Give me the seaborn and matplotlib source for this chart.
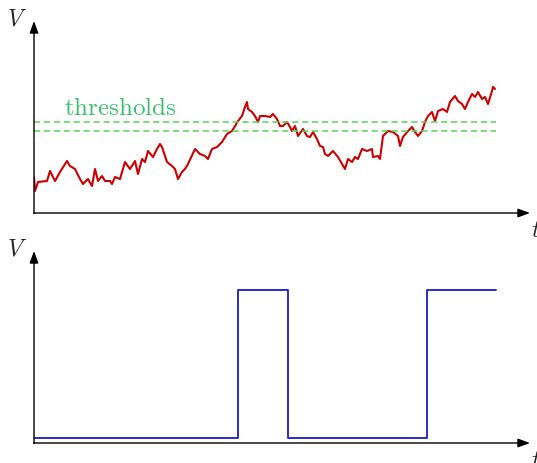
import matplotlib
matplotlib.use("Agg")
import matplotlib.pyplot as plt
import seaborn as sns
import pandas as pd

# signal (t and V in pixel-like units)
red_t = [0, 1, 4, 13, 16, 21, 26, 33, 36, 41, 46, 49, 54, 58, 61, 64, 68, 71, 76, 78,
         81, 86, 91, 96, 101, 104, 108, 111, 114, 119, 123, 126, 128, 133, 138, 141, 144,
         148, 151, 154, 161, 166, 171, 174, 178, 183, 188, 193, 198, 201, 204, 208, 211,
         213, 214, 218, 221, 224, 226, 231, 236, 239, 243, 246, 249, 253, 256, 258, 261,
         264, 269, 273, 276, 279, 283, 286, 289, 291, 294, 299, 304, 308, 311, 314, 318,
         321, 324, 328, 333, 338, 339, 344, 346, 349, 354, 359, 364, 366, 369, 374, 378,
         381, 384, 388, 391, 394, 398, 401, 404, 409, 413, 416, 421, 424, 428, 431, 434,
         438, 441, 444, 448, 451, 454, 458, 459, 461]
red_v = [36, 22, 31, 32, 42, 32, 41, 52, 47, 44, 34, 29, 34, 27, 44, 32, 37, 32, 32, 29,
         36, 34, 51, 44, 52, 39, 54, 51, 62, 56, 64, 69, 66, 51, 47, 44, 34,
         41, 44, 49, 64, 59, 57, 54, 64, 66, 71, 79, 82, 87, 92, 97, 106,
         111, 104, 101, 97, 91, 97, 97, 96, 99, 94, 87, 87, 91, 86, 82, 87,
         77, 84, 77, 76, 81, 74, 67, 66, 59, 57, 62, 56, 49, 44, 54, 51,
         56, 54, 64, 62, 64, 56, 57, 54, 77, 82, 81, 77, 67, 76, 82, 86,
         81, 77, 82, 91, 97, 101, 92, 102, 104, 101, 111, 117, 112, 109, 104, 111,
         119, 116, 121, 114, 116, 109, 122, 126, 124]

thresholds = [91, 82]

# comparator output
blue_t = [0, 204, 254, 393, 462]
blue_v = [5, 153, 5, 153, 153]

T_MAX = 496
V_MAX = 192

sns.set_theme(style="white")
plt.rcParams["mathtext.fontset"] = "cm"

fig = plt.figure(figsize=(5.37, 4.64), dpi=100)
W, H = 537, 464
ax1 = fig.add_axes([34 / W, (H - 214) / H, 503 / W, 209 / H])
ax2 = fig.add_axes([34 / W, (H - 444) / H, 503 / W, 209 / H])


def draw_axes(ax):
    ax.set_xlim(0, 503)
    ax.set_ylim(0, 209)
    ax.axis("off")
    arrow = dict(arrowstyle="-|>,head_length=0.6,head_width=0.22", color="black",
                 lw=1.0, shrinkA=0, shrinkB=0)
    ax.annotate("", xy=(T_MAX, 0), xytext=(-0.5, 0), arrowprops=arrow, annotation_clip=False)
    ax.annotate("", xy=(0, V_MAX), xytext=(0, -0.5), arrowprops=arrow, annotation_clip=False)
    ax.text(-17, V_MAX + 4, "$V$", fontsize=17, ha="center", va="center", clip_on=False)
    ax.text(T_MAX + 6, -16, "$t$", fontsize=17, ha="center", va="center", clip_on=False)


draw_axes(ax1)
draw_axes(ax2)

red = pd.DataFrame({"t": red_t, "V": red_v})
sns.lineplot(data=red, x="t", y="V", ax=ax1, color="#cc0000", lw=1.5, estimator=None)
for th in thresholds:
    ax1.plot([0, red_t[-1] + 1], [th, th], color="#55d455", lw=1.1, ls=(0, (4, 2.5)))
ax1.text(86, 106, r"$\mathrm{thresholds}$", fontsize=18, color="#3cbf6e",
         ha="center", va="center")

blue = pd.DataFrame({"t": blue_t, "V": blue_v})
sns.lineplot(data=blue, x="t", y="V", ax=ax2, color="#1a1acc", lw=1.3,
             drawstyle="steps-post", estimator=None)
ax1.axis("off")
ax2.axis("off")

fig.savefig("out.png", dpi=100)
